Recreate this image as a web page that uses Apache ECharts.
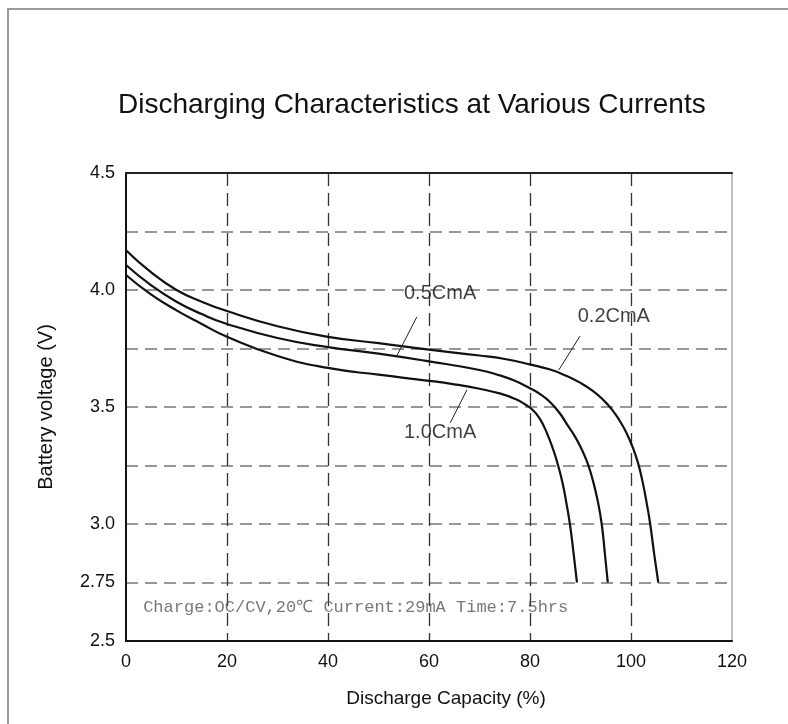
<!DOCTYPE html>
<html>
<head>
<meta charset="utf-8">
<script src="https://cdn.jsdelivr.net/npm/echarts@6/dist/echarts.min.js"></script>
<style>
html,body{margin:0;padding:0;background:#fff;}
#c{width:788px;height:724px;}
</style>
</head>
<body>
<div id="c"></div>
<script>
// ---- data ----
const xTickValues = [0, 20, 40, 60, 80, 100, 120];
const yTickLabels = ['2.5', '2.75', '3.0', '3.5', '4.0', '4.5'];

const capacity02 = [0, 5, 10, 15, 20, 30, 40, 50, 60, 70, 75, 80, 84, 87, 90, 92.5, 94.5, 96.2, 97.8, 99.2, 100.4, 101.4, 102.3, 103.1, 103.8, 104.6, 105.4];
const voltage02  = [4.17, 4.075, 4.0, 3.95, 3.91, 3.845, 3.80, 3.773, 3.745, 3.72, 3.705, 3.682, 3.66, 3.635, 3.603, 3.568, 3.53, 3.49, 3.44, 3.385, 3.325, 3.26, 3.18, 3.09, 3.0, 2.87, 2.75];

const capacity05 = [0, 5, 10, 15, 20, 30, 40, 50, 60, 70, 74, 77, 80, 82, 84, 86, 87.5, 89, 90.3, 91.4, 92.4, 93.4, 94.2, 94.8, 95.4];
const voltage05  = [4.107, 4.02, 3.95, 3.897, 3.855, 3.795, 3.756, 3.728, 3.695, 3.658, 3.635, 3.612, 3.58, 3.555, 3.52, 3.47, 3.42, 3.37, 3.316, 3.26, 3.19, 3.1, 3.0, 2.88, 2.75];

const capacity10 = [0, 5, 10, 15, 20, 30, 40, 50, 60, 65, 70, 74, 77, 79, 80.5, 81.8, 82.8, 83.8, 84.8, 85.7, 86.5, 87.2, 87.9, 88.6, 89.3];
const voltage10  = [4.064, 3.98, 3.913, 3.855, 3.80, 3.718, 3.667, 3.638, 3.612, 3.597, 3.578, 3.558, 3.535, 3.512, 3.488, 3.455, 3.415, 3.365, 3.305, 3.24, 3.17, 3.09, 3.0, 2.88, 2.75];

const curveNames = ['0.2CmA', '0.5CmA', '1.0CmA'];
const labelNames = ['0.5CmA', '0.2CmA', '1.0CmA'];
const labelPositions = [[62.2, 3.987], [96.6, 3.885], [62.2, 3.389]];
const leaderStarts = [[57.6, 3.885], [89.9, 3.803], [67.5, 3.573]];
const leaderEnds   = [[53.7, 3.722], [85.7, 3.658], [64.2, 3.432]];

const noteText = 'Charge:OC/CV,20\u2103 Current:29mA Time:7.5hrs';
const notePosition = [3.4, 2.645];

const titleText = 'Discharging Characteristics at Various Currents';
const xName = 'Discharge Capacity (%)';
const yName = 'Battery voltage (V)';

// ---- build ----
function pairs(xs, ys) { return xs.map((x, i) => [x, ys[i]]); }
const curves = [pairs(capacity02, voltage02), pairs(capacity05, voltage05), pairs(capacity10, voltage10)];

const FONT = 'Liberation Sans, Arial, sans-serif';
const series = [];
curves.forEach((d, i) => {
  series.push({
    name: curveNames[i], type: 'line', data: d, smooth: 0.5, showSymbol: false,
    lineStyle: { color: '#111', width: 2.2 }, z: 5, silent: true
  });
});
leaderStarts.forEach((s, i) => {
  series.push({
    type: 'line', data: [s, leaderEnds[i]], showSymbol: false, silent: true,
    lineStyle: { color: '#222', width: 1 }, z: 6
  });
});
series.push({
  type: 'scatter', symbolSize: 0, silent: true, z: 7,
  data: labelNames.map((n, i) => ({ name: n, value: labelPositions[i] })),
  label: { show: true, position: 'inside', formatter: p => p.name, color: '#111', fontSize: 20, fontFamily: FONT }
});
series.push({
  type: 'scatter', symbolSize: 0, silent: true, z: 7,
  data: [{ name: noteText, value: notePosition }],
  label: { show: true, position: 'right', distance: 0, formatter: p => p.name, color: '#555', fontSize: 17, fontFamily: 'Liberation Mono, DejaVu Sans Mono, monospace' }
});

const chart = echarts.init(document.getElementById('c'), null, { renderer: 'canvas' });
chart.setOption({
  animation: false,
  backgroundColor: '#fff',
  title: {
    text: titleText, left: 113, top: 86,
    textStyle: { fontSize: 28, fontWeight: 'normal', color: '#111', fontFamily: FONT }
  },
  graphic: [{
    type: 'rect', shape: { x: 8, y: 9, width: 820, height: 760 },
    style: { fill: null, stroke: '#9a9a9a', lineWidth: 2 }, silent: true
  }],
  grid: { left: 126, top: 173, width: 606, height: 468, show: true, borderColor: '#aaa', borderWidth: 1.5, containLabel: false },
  xAxis: [{
    type: 'value', min: 0, max: 120, interval: 20,
    name: xName, nameLocation: 'middle', nameGap: 48,
    nameTextStyle: { fontSize: 19, color: '#111', fontFamily: FONT, padding: [0, 0, 0, 34] },
    axisLine: { show: true, lineStyle: { color: '#111', width: 2 } },
    axisTick: { show: false },
    axisLabel: { fontSize: 18, color: '#111', fontFamily: FONT, margin: 12,
      formatter: v => xTickValues.includes(v) ? String(v) : '' },
    splitLine: { show: true, showMinLine: false, showMaxLine: false, lineStyle: { color: '#333', width: 1.3, type: [13, 7] } }
  }, {
    type: 'value', min: 0, max: 120, position: 'top',
    axisLine: { show: true, onZero: false, lineStyle: { color: '#222', width: 2 } },
    axisTick: { show: false }, axisLabel: { show: false }, splitLine: { show: false }
  }],
  yAxis: {
    type: 'value', min: 2.5, max: 4.5, interval: 0.25,
    name: yName, nameLocation: 'middle', nameGap: 70,
    nameTextStyle: { fontSize: 20, color: '#111', fontFamily: FONT },
    axisLine: { show: true, lineStyle: { color: '#111', width: 2 } },
    axisTick: { show: false },
    axisLabel: { fontSize: 18, color: '#111', fontFamily: FONT, margin: 11,
      formatter: v => {
        const hit = yTickLabels.find(t => Math.abs(parseFloat(t) - v) < 1e-6);
        return hit || '';
      } },
    splitLine: { show: true, showMinLine: false, showMaxLine: false, lineStyle: { color: '#777', width: 1.6, type: [12, 7] } }
  },
  series: series
});
</script>
</body>
</html>
